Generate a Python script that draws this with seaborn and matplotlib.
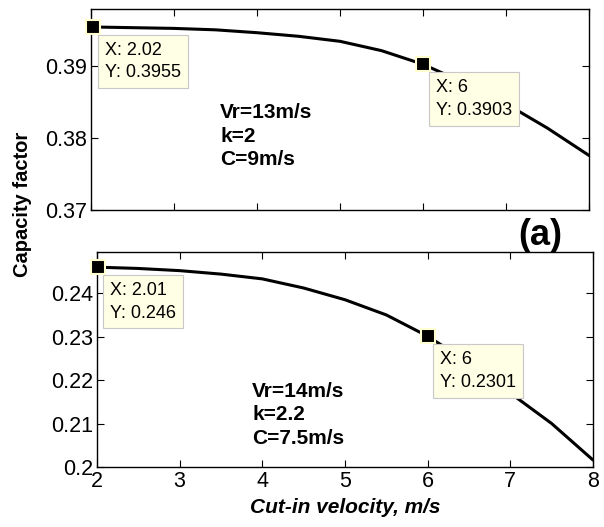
import numpy as np
import pandas as pd
import matplotlib
matplotlib.use("Agg")
import matplotlib.pyplot as plt
import seaborn as sns

# cut-in velocity (m/s)
cut_in = [2.0, 2.5, 3.0, 3.5, 4.0, 4.5, 5.0, 5.5, 6.0, 6.5, 7.0, 7.5, 8.0]
# capacity factor, case (Vr=13, k=2, C=9)
cf_top = [0.3955, 0.3954, 0.3953, 0.3951, 0.3947, 0.3942, 0.3935,
          0.3922, 0.3903, 0.3877, 0.3848, 0.3814, 0.3776]
# capacity factor, case (Vr=14, k=2.2, C=7.5)
cf_bot = [0.2460, 0.2457, 0.2452, 0.2444, 0.2433, 0.2412, 0.2385,
          0.2350, 0.2301, 0.2240, 0.2170, 0.2100, 0.2016]

tips_top = [(2.02, 0.3955), (6, 0.3903)]
tips_bot = [(2.01, 0.246), (6, 0.2301)]
tip_labels_top = ["X: 2.02\nY: 0.3955", "X: 6\nY: 0.3903"]
tip_labels_bot = ["X: 2.01\nY: 0.246", "X: 6\nY: 0.2301"]

yticks_top = [0.37, 0.38, 0.39]
yticks_bot = [0.2, 0.21, 0.22, 0.23, 0.24]
ytick_labels_top = ["0.37", "0.38", "0.39"]
ytick_labels_bot = ["0.2", "0.21", "0.22", "0.23", "0.24"]
xticks = [2, 3, 4, 5, 6, 7, 8]

sns.set_style("ticks", {"xtick.direction": "in", "ytick.direction": "in"})
plt.rcParams["font.family"] = ["Liberation Sans", "DejaVu Sans"]
plt.rcParams["text.color"] = "black"
plt.rcParams["axes.labelcolor"] = "black"

df_top = pd.DataFrame({"x": cut_in, "y": cf_top})
df_bot = pd.DataFrame({"x": cut_in, "y": cf_bot})

fig = plt.figure(figsize=(6.04, 5.27), dpi=100)
ax1 = fig.add_axes([0.1507, 0.6015, 0.8245, 0.3814])
ax2 = fig.add_axes([0.1606, 0.1139, 0.8212, 0.408])


def style_axes(ax, yticks, ylabels, ylim, show_x):
    ax.set_xlim(2, 8)
    ax.set_ylim(*ylim)
    ax.set_xticks(xticks)
    ax.set_yticks(yticks)
    ax.set_yticklabels(ylabels)
    if show_x:
        ax.set_xticklabels([str(t) for t in xticks])
    else:
        ax.set_xticklabels([])
    ax.tick_params(direction="in", length=5, width=0.8, top=True, right=True,
                   labelsize=15.5, colors="black", pad=3)
    for s in ax.spines.values():
        s.set_visible(True)
        s.set_linewidth(1.0)
        s.set_color("black")
    ax.set_xlabel("")
    ax.set_ylabel("")


def add_tips(ax, pts, labels):
    for (px, py), lab in zip(pts, labels):
        ax.plot(px, py, marker="s", markersize=10, color="black",
                markeredgecolor="#FFFFD0", markeredgewidth=1.5, clip_on=False,
                zorder=5)
        ax.annotate(lab, xy=(px, py), xytext=(9, -10.5), textcoords="offset points",
                    ha="left", va="top", fontsize=13, linespacing=1.45,
                    color="black",
                    bbox=dict(boxstyle="square,pad=0.38", fc="#FFFFE6",
                              ec="#C8C8C8", lw=0.8), zorder=6)


sns.lineplot(data=df_top, x="x", y="y", ax=ax1, color="black", linewidth=2.2)
sns.lineplot(data=df_bot, x="x", y="y", ax=ax2, color="black", linewidth=2.2)

style_axes(ax1, yticks_top, ytick_labels_top, (0.37, 0.398), False)
style_axes(ax2, yticks_bot, ytick_labels_bot, (0.2, 0.2495), True)

add_tips(ax1, tips_top, tip_labels_top)
add_tips(ax2, tips_bot, tip_labels_bot)

ax1.text(0.259, 0.368, "Vr=13m/s\nk=2\nC=9m/s", transform=ax1.transAxes,
         ha="left", va="center", fontsize=15, fontweight="bold", linespacing=1.3,
         color="black")
ax2.text(0.3125, 0.242, "Vr=14m/s\nk=2.2\nC=7.5m/s", transform=ax2.transAxes,
         ha="left", va="center", fontsize=15, fontweight="bold", linespacing=1.3,
         color="black")

ax2.set_xlabel("Cut-in velocity, m/s", fontsize=15, fontweight="bold",
               fontstyle="italic", labelpad=4, color="black")
fig.text(0.037, 1 - 204 / 527, "Capacity factor", rotation=90, ha="center",
         va="center", fontsize=14.5, fontweight="bold", color="black")
fig.text(0.894, 1 - 245 / 527, "(a)", ha="center", va="baseline",
         fontsize=26, fontweight="bold", color="black")

fig.savefig("out.png", dpi=100)
